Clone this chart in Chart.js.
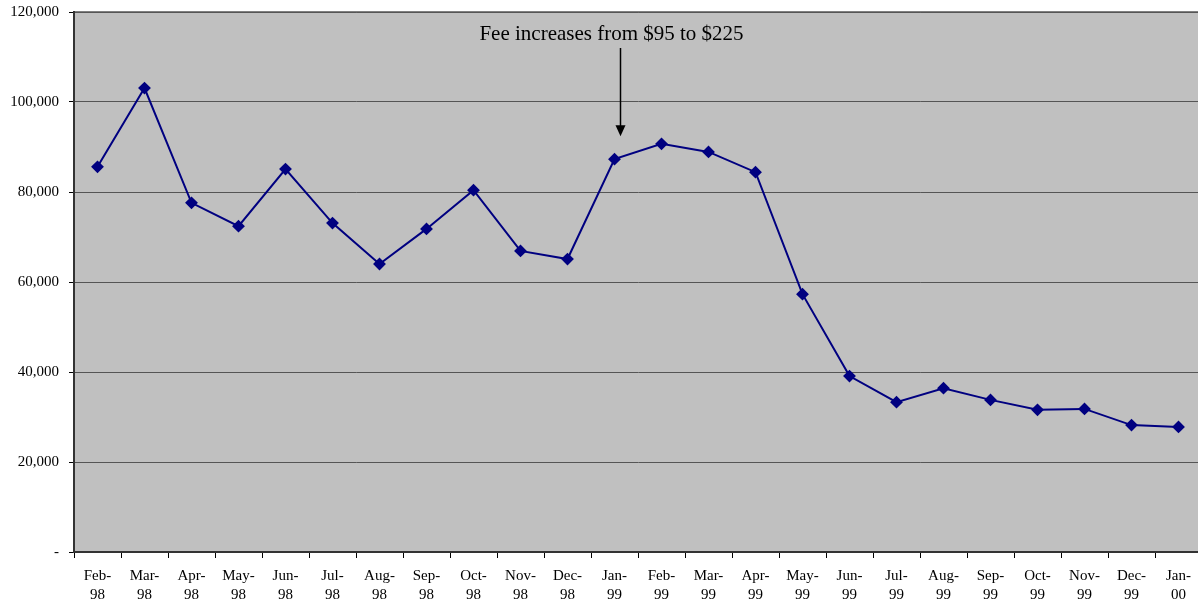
<!DOCTYPE html>
<html>
<head>
<meta charset="utf-8">
<script src="https://cdn.jsdelivr.net/npm/chart.js@4/dist/chart.umd.min.js"></script>
<style>
  html, body { margin: 0; padding: 0; background: #fff; overflow: hidden; }
  #wrap { width: 1209px; height: 599px; }
</style>
</head>
<body>
<div id="wrap"><canvas id="feeChart" width="1209" height="599"></canvas></div>
<script>
// months, Feb-98 .. Jan-00
var months = [
	['Feb-', '98'], ['Mar-', '98'], ['Apr-', '98'], ['May-', '98'], ['Jun-', '98'], ['Jul-', '98'],
	['Aug-', '98'], ['Sep-', '98'], ['Oct-', '98'], ['Nov-', '98'], ['Dec-', '98'], ['Jan-', '99'],
	['Feb-', '99'], ['Mar-', '99'], ['Apr-', '99'], ['May-', '99'], ['Jun-', '99'], ['Jul-', '99'],
	['Aug-', '99'], ['Sep-', '99'], ['Oct-', '99'], ['Nov-', '99'], ['Dec-', '99'], ['Jan-', '00']
];
var counts = [
	85600, 103100, 77600, 72400, 85100, 73100, 64000, 71800, 80400, 66900, 65100, 87300,
	90700, 88900, 84400, 57300, 39100, 33300, 36400, 33800, 31600, 31800, 28200, 27800
];
var yTicks = [0, 20000, 40000, 60000, 80000, 100000, 120000];
var noteText = 'Fee increases from $95 to $225';
var noteIndex = 11; // Jan-99

var serif = "'Liberation Serif', 'Times New Roman', serif";

// grey plot area + top border
var plotBg = {
	id: 'plotBg',
	beforeDraw: function (chart) {
		var a = chart.chartArea, c = chart.ctx;
		c.save();
		c.fillStyle = '#c0c0c0';
		c.fillRect(a.left, a.top, a.right - a.left, a.bottom - a.top);
		c.strokeStyle = '#808080';
		c.lineWidth = 2;
		c.beginPath();
		c.moveTo(a.left, a.top);
		c.lineTo(a.right, a.top);
		c.stroke();
		c.restore();
	}
};

// text label with arrow pointing at the fee increase
var feeNote = {
	id: 'feeNote',
	afterDatasetsDraw: function (chart) {
		var c = chart.ctx;
		var x = chart.scales.x.getPixelForValue(noteIndex) + 6;
		var yPt = chart.scales.y.getPixelForValue(counts[noteIndex]);
		c.save();
		c.fillStyle = '#000';
		c.font = '21px ' + serif;
		c.textAlign = 'center';
		c.textBaseline = 'alphabetic';
		c.fillText(noteText, x - 9, 40);
		c.strokeStyle = '#000';
		c.lineWidth = 1.5;
		c.beginPath();
		c.moveTo(x, 48);
		c.lineTo(x, yPt - 33);
		c.stroke();
		c.beginPath();
		c.moveTo(x - 5, yPt - 34);
		c.lineTo(x + 5, yPt - 34);
		c.lineTo(x, yPt - 23);
		c.closePath();
		c.fill();
		c.restore();
	}
};

var ctx = document.getElementById('feeChart').getContext('2d');
var feeChart = new Chart(ctx, {
	type: 'line',
	data: {
		labels: months,
		datasets: [{
			data: counts,
			borderColor: '#000080',
			backgroundColor: '#000080',
			borderWidth: 2,
			pointStyle: 'rectRot',
			pointRadius: 5,
			pointHoverRadius: 5,
			tension: 0,
			fill: false
		}]
	},
	options: {
		responsive: false,
		animation: false,
		layout: { padding: { top: 12, right: 0, left: 0, bottom: 0 } },
		plugins: {
			legend: { display: false },
			tooltip: { enabled: false }
		},
		scales: {
			x: {
				offset: true,
				grid: {
					offset: true,
					drawOnChartArea: false,
					tickLength: 6,
					tickColor: '#000',
					tickWidth: 1
				},
				border: { color: '#333', width: 2 },
				ticks: {
					autoSkip: false,
					maxRotation: 0,
					padding: 8,
					color: '#000',
					font: { family: serif, size: 15, lineHeight: 1.3 }
				},
				afterFit: function (s) { s.height = 47; }
			},
			y: {
				min: 0,
				max: 120000,
				afterBuildTicks: function (s) {
					s.ticks = yTicks.map(function (v) { return { value: v }; });
				},
				grid: {
					color: '#555',
					lineWidth: 1,
					tickLength: 5,
					tickColor: '#000'
				},
				border: { color: '#333', width: 2 },
				ticks: {
					padding: 10,
					color: '#000',
					font: { family: serif, size: 15 },
					callback: function (v) { return v === 0 ? '-' : v.toLocaleString('en-US'); }
				},
				afterFit: function (s) {
					s.width = 74;
					s.paddingTop = 0;
					s.paddingBottom = 0;
				}
			}
		}
	},
	plugins: [plotBg, feeNote]
});
</script>
</body>
</html>
